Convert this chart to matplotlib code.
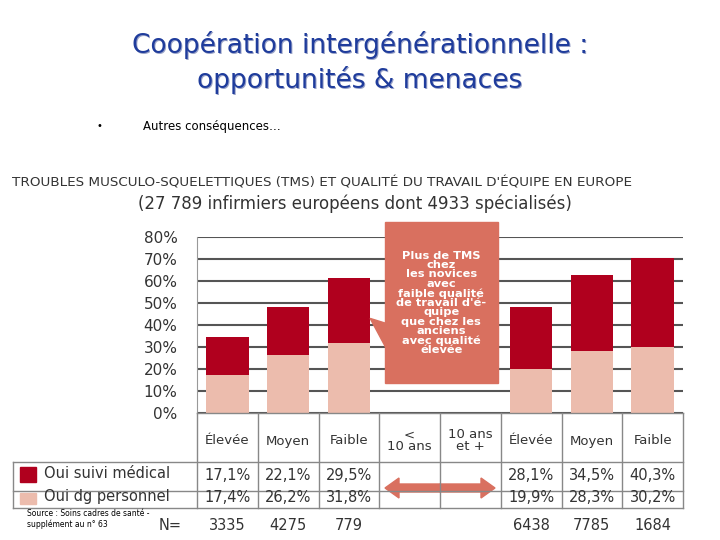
import numpy as np
import matplotlib.pyplot as plt
from matplotlib.patches import Rectangle, FancyArrow, Polygon

cols = ["Élevée", "Moyen", "Faible", "<\n10 ans", "10 ans\net +", "Élevée", "Moyen", "Faible"]
suivi = [17.1, 22.1, 29.5, None, None, 28.1, 34.5, 40.3]
dg = [17.4, 26.2, 31.8, None, None, 19.9, 28.3, 30.2]
suivi_lbl = ["17,1%", "22,1%", "29,5%", "", "", "28,1%", "34,5%", "40,3%"]
dg_lbl = ["17,4%", "26,2%", "31,8%", "", "", "19,9%", "28,3%", "30,2%"]
n_vals = ["3335", "4275", "779", "", "", "6438", "7785", "1684"]
yticks = [0, 10, 20, 30, 40, 50, 60, 70, 80]

dark = "#b0001e"
light = "#ecbcad"
callout = "#d9705f"
W, H = 720, 540

fig = plt.figure(figsize=(7.2, 5.4), dpi=100)
fig.patch.set_facecolor("white")

def fx(x): return x / W
def fy(y): return 1 - y / H

for dx, col in [(0.0015, "#9aa3c8"), (0, "#1f3c9c")]:
    fig.text(0.5 + dx, fy(45) - dx, "Coopération intergénérationnelle :", ha="center", va="center",
             fontsize=19, color=col)
    fig.text(0.5 + dx, fy(80) - dx, "opportunités & menaces", ha="center", va="center",
             fontsize=19, color=col)
fig.text(fx(97), fy(126), "•", fontsize=7, va="center")
fig.text(fx(143), fy(126), "Autres conséquences…", fontsize=8.5, va="center")

fig.text(fx(12), fy(183), "TROUBLES MUSCULO-SQUELETTIQUES (TMS) ET QUALITÉ DU TRAVAIL D'ÉQUIPE EN EUROPE",
         fontsize=9.7, va="center", color="#333333")
fig.text(fx(355), fy(204), "(27 789 infirmiers européens dont 4933 spécialisés)",
         fontsize=12, ha="center", va="center", color="#333333")

x0, x1, y0, y1 = 197, 683, 413, 237
ax = fig.add_axes([fx(x0), fy(y0), (x1 - x0) / W, (y0 - y1) / H])
ax.set_xlim(0, 8)
ax.set_ylim(0, 80)
ax.set_yticks(yticks)
ax.set_yticklabels([f"{t}%" for t in yticks], fontsize=11, color="#333333")
ax.set_xticks([])
ax.grid(axis="y", color="#555555", lw=1.5)
ax.set_axisbelow(True)
for s in ["top", "right", "bottom"]:
    ax.spines[s].set_visible(False)
ax.spines["left"].set_color("#999999")
ax.tick_params(axis="y", length=0, pad=14)
idx = [i for i in range(8) if dg[i] is not None]
xs = np.array(idx) + 0.5
ax.bar(xs, [dg[i] for i in idx], width=0.7, color=light, zorder=2)
ax.bar(xs, [suivi[i] for i in idx], bottom=[dg[i] for i in idx], width=0.7, color=dark, zorder=2)

# callout
ax.add_patch(Polygon([[2.85, 43], [3.2, 40], [3.2, 25]], closed=True, color=callout, zorder=3))
ax.add_patch(Rectangle((3.1, 13.6), 1.85, 73.2, color=callout, zorder=3, clip_on=False))
ax.text(4.02, 50, "Plus de TMS\nchez\nles novices\navec\nfaible qualité\nde travail d'é-\nquipe\nque chez les\nanciens\navec qualité\nélevée",
        ha="center", va="center", fontsize=8.2, color="white", fontweight="bold",
        linespacing=0.92, zorder=4)

# table
bounds = np.linspace(x0, x1, 9)
rows = [413, 462, 491, 508]
grid = "#888888"
for b in bounds:
    fig.add_artist(plt.Line2D([fx(b)] * 2, [fy(413), fy(508)], color=grid, lw=1))
for r in rows:
    xl = 13 if r != 413 else x0
    fig.add_artist(plt.Line2D([fx(xl), fx(x1)], [fy(r)] * 2, color=grid, lw=1))
fig.add_artist(plt.Line2D([fx(13)] * 2, [fy(462), fy(508)], color=grid, lw=1))
for i, c in enumerate(cols):
    cx = fx((bounds[i] + bounds[i + 1]) / 2)
    fig.text(cx, fy(441), c, ha="center", va="center", fontsize=9.5, color="#333333", linespacing=0.9)
    fig.text(cx, fy(475), suivi_lbl[i], ha="center", va="center", fontsize=10.5, color="#333333")
    fig.text(cx, fy(497), dg_lbl[i], ha="center", va="center", fontsize=10.5, color="#333333")
    fig.text(cx, fy(525), n_vals[i], ha="center", va="center", fontsize=10.5, color="#333333")
fig.text(fx(170), fy(525), "N=", ha="center", va="center", fontsize=10.5, color="#333333")
fig.add_artist(Rectangle((fx(20), fy(482)), 16 / W, 15 / H, color=dark))
fig.add_artist(Rectangle((fx(20), fy(504)), 16 / W, 11 / H, color=light))
fig.text(fx(44), fy(474), "Oui suivi médical", va="center", fontsize=10.5, color="#333333")
fig.text(fx(44), fy(497), "Oui dg personnel", va="center", fontsize=10.5, color="#333333")
fig.add_artist(FancyArrow(fx(440), fy(488), 55 / W, 0, width=8 / H, head_width=20 / H,
                          head_length=14 / W, color=callout, length_includes_head=True))
fig.add_artist(FancyArrow(fx(440), fy(488), -55 / W, 0, width=8 / H, head_width=20 / H,
                          head_length=14 / W, color=callout, length_includes_head=True))
fig.text(fx(27), fy(519), "Source : Soins cadres de santé -\nsupplément au n° 63", va="center",
         fontsize=5.5, linespacing=1.3)

fig.savefig("out.png", dpi=100)
